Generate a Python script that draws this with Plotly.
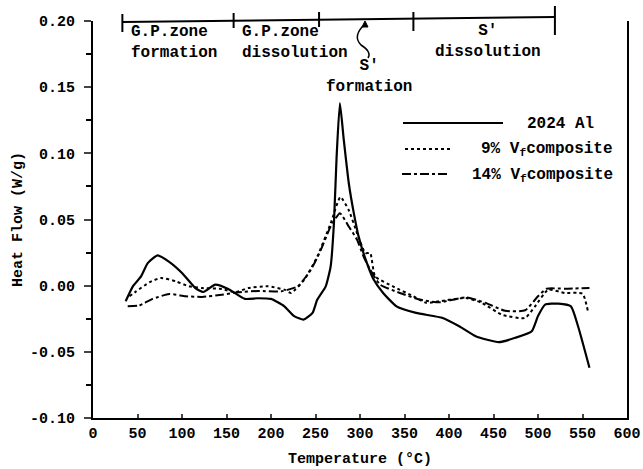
import plotly.graph_objects as go

# ---- data ----
al_T = [36.7, 44.8, 54, 61.5, 72.6, 85.6, 100, 115, 124, 137.4, 152, 170.7, 185, 200, 215, 226,
        236.7, 246.7, 252, 261.5, 267, 270.7, 273.7, 277.4, 281.8, 287.4, 293, 298.5, 307.8, 315,
        326, 341, 363, 393, 411.5, 430, 456, 474.4, 493, 500, 508, 522.6, 537, 545, 557.8]
al_V = [-0.0118, -0.0005, 0.007, 0.017, 0.0229, 0.018, 0.0096, -0.0018, -0.0048, 0.0008, -0.0025,
        -0.010, -0.0095, -0.010, -0.0156, -0.023, -0.0256, -0.0206, -0.0105, -0.0005, 0.0145, 0.047,
        0.097, 0.138, 0.110, 0.0774, 0.055, 0.037, 0.017, 0.005, -0.0055, -0.0156, -0.0206, -0.0244,
        -0.0307, -0.0382, -0.0427, -0.0394, -0.0344, -0.023, -0.0143, -0.0136, -0.0156, -0.0307, -0.062]

c9_T = [41, 48.5, 63.3, 76, 93, 107.8, 122.6, 144.8, 159.6, 174.4, 196.7, 215, 222.6, 237.4, 252,
        267, 278, 287.4, 296.7, 306, 311.5, 317, 337, 360, 374.4, 389, 419, 437, 459.6, 485.6, 496.7,
        511.5, 530, 550, 556]
c9_V = [-0.008, -0.0043, 0.0025, 0.0058, 0.0033, -0.0005, -0.0018, -0.0025, -0.005, -0.0018, -0.0005,
        -0.003, -0.0055, 0.0045, 0.022, 0.047, 0.067, 0.057, 0.0397, 0.0246, 0.0246, 0.007, -0.0005,
        -0.008, -0.013, -0.0118, -0.0093, -0.013, -0.022, -0.0244, -0.0156, -0.003, -0.0055, -0.006, -0.019]

c14_T = [39, 52, 67, 85.6, 104, 122.6, 144.8, 163, 185.6, 211.5, 230, 244.8, 256, 267, 277.4, 287.4,
         296.7, 304, 311.5, 322.6, 344.8, 367, 389, 419, 441, 463, 485.6, 500, 509.6, 530, 557.8]
c14_V = [-0.0156, -0.015, -0.010, -0.0063, -0.008, -0.0085, -0.0068, -0.005, -0.0040, -0.0043, -0.0005,
         0.012, 0.027, 0.0447, 0.0548, 0.0447, 0.0347, 0.022, 0.012, 0.0008, -0.0055, -0.0105, -0.0126,
         -0.0088, -0.013, -0.019, -0.0186, -0.008, -0.0023, -0.0023, -0.0018]

series_names = ["2024 Al", "9% V<sub>f</sub>composite", "14% V<sub>f</sub>composite"]
series_dash = ["solid", "dot", "dashdot"]

# stage boundaries along top bar (temperature) and labels
stage_bounds = [33, 158, 254, 360, 519]
stage_labels = ["G.P.zone<br>formation", "G.P.zone<br>dissolution", "S'<br>formation", "S'<br>dissolution"]

x_ticks = list(range(0, 601, 50))
y_ticks = [-0.10, -0.05, 0.00, 0.05, 0.10, 0.15, 0.20]

FONT = "Liberation Mono"
L, R, T_, B = 93, 627, 21, 418
W, H = 643, 469

fig = go.Figure()
for T, V, dash in [(al_T, al_V, "solid"), (c9_T, c9_V, "dot"), (c14_T, c14_V, "dashdot")]:
    fig.add_trace(go.Scatter(x=T, y=V, mode="lines",
                             line=dict(color="black", width=2.2 if dash == "solid" else 2, dash=dash,
                                       shape="spline", smoothing=0.5),
                             showlegend=False))

# paper helpers
def px2paper_x(px):
    return (px - L) / float(R - L)

def px2paper_y(py):
    return (B - py) / float(B - T_)

shapes = []
annotations = []

# top stage bar (slightly sloped as in original)
shapes.append(dict(type="line", xref="x", yref="paper", x0=stage_bounds[0], x1=stage_bounds[-1],
                   y0=px2paper_y(22), y1=px2paper_y(17), line=dict(color="black", width=2)))
tick_spans = [(14, 32), (13, 28), (12, 27), (12, 31), (6, 35)]
for b, (a, c) in zip(stage_bounds, tick_spans):
    shapes.append(dict(type="line", xref="x", yref="paper", x0=b, x1=b,
                       y0=px2paper_y(a), y1=px2paper_y(c), line=dict(color="black", width=2)))
# small arrow for S' formation + squiggle
shapes.append(dict(type="path", xref="paper", yref="paper",
                   path="M {},{} Q {},{} {},{} Q {},{} {},{}".format(
                       px2paper_x(365), px2paper_y(24),
                       px2paper_x(352), px2paper_y(36), px2paper_x(361), px2paper_y(45),
                       px2paper_x(372), px2paper_y(52), px2paper_x(368), px2paper_y(58)),
                   line=dict(color="black", width=1.5)))
shapes.append(dict(type="path", xref="paper", yref="paper",
                   path="M {},{} L {},{} L {},{} Z".format(
                       px2paper_x(365), px2paper_y(21), px2paper_x(362), px2paper_y(27),
                       px2paper_x(368), px2paper_y(27)),
                   fillcolor="black", line=dict(color="black", width=1)))

label_pos = [(129, 42, "left"), (240, 42, "left"), (369, 76, "center"), (488, 41, "center")]
for lab, (lx, ly, al) in zip(stage_labels, label_pos):
    annotations.append(dict(text=lab, xref="paper", yref="paper", x=px2paper_x(lx), y=px2paper_y(ly),
                            xanchor=al, yanchor="middle", align=al, showarrow=False,
                            font=dict(family=FONT, size=16, color="black", weight="bold")))

# manual legend
leg = [((403, 503), 123, 525, "left"), ((405, 450), 149, 615, "right"), ((402, 450), 174, 615, "right")]
for name, dash, ((sx0, sx1), sy, tx, tal) in zip(series_names, series_dash, leg):
    shapes.append(dict(type="line", xref="paper", yref="paper", x0=px2paper_x(sx0), x1=px2paper_x(sx1),
                       y0=px2paper_y(sy), y1=px2paper_y(sy),
                       line=dict(color="black", width=2.2, dash=dash)))
    annotations.append(dict(text=name, xref="paper", yref="paper", x=px2paper_x(tx), y=px2paper_y(sy + 1),
                            xanchor=tal, yanchor="middle", showarrow=False,
                            font=dict(family=FONT, size=16, color="black", weight="bold")))

fig.update_layout(
    width=W, height=H,
    margin=dict(l=L, r=W - R, t=T_, b=H - B, autoexpand=False),
    paper_bgcolor="white", plot_bgcolor="white",
    font=dict(family=FONT, size=15, color="black"),
    shapes=shapes, annotations=annotations,
    showlegend=False,
)
fig.update_xaxes(range=[0, 600], tickvals=x_ticks, ticktext=[str(v) for v in x_ticks],
                 ticks="inside", ticklen=4, tickwidth=1.5, showline=True, linecolor="black", linewidth=2,
                 showgrid=False, zeroline=False, ticklabeloverflow="allow", automargin=False,
                 tickfont=dict(family=FONT, size=15, weight="bold"),
                 title=dict(text="Temperature (°C)", font=dict(family=FONT, size=15, weight="bold"), standoff=10))
fig.update_yaxes(range=[-0.10, 0.20], tickvals=y_ticks, ticktext=["%.2f" % v for v in y_ticks],
                 ticks="outside", ticklen=7, tickwidth=2, showline=True, linecolor="black", linewidth=2,
                 mirror=True, showgrid=False, zeroline=False, ticklabelstandoff=6, automargin=False,
                 minor=dict(ticks="outside", ticklen=5, tickwidth=1.5, dtick=0.025, tick0=0, tickcolor="black"),
                 tickfont=dict(family=FONT, size=15, weight="bold"),
                 title=dict(text="Heat Flow (W/g)", font=dict(family=FONT, size=15, weight="bold"), standoff=4))

fig.write_html("out.html")
